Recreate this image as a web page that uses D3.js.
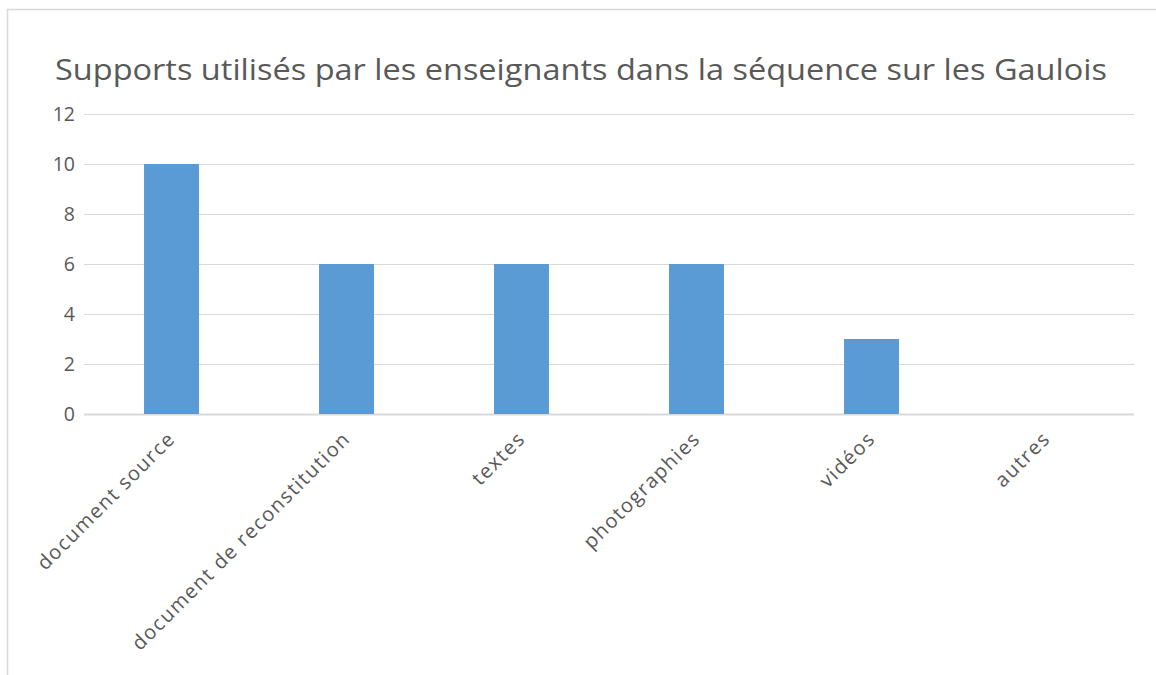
<!DOCTYPE html>
<html>
<head>
<meta charset="utf-8">
<script src="https://cdn.jsdelivr.net/npm/d3@7"></script>
<style>
  body { margin: 0; background: #fff; }
  text { font-family: "Open Sans", "Noto Sans", sans-serif; }
</style>
</head>
<body>
<div id="chart"></div>
<script>
const width = 1156;
const height = 675;

// data
const categories = ["document source", "document de reconstitution", "textes", "photographies", "vidéos", "autres"];
const values = [10, 6, 6, 6, 3, 0];
const yTicks = [0, 2, 4, 6, 8, 10, 12];
const title = "Supports utilisés par les enseignants dans la séquence sur les Gaulois";

const margin = { left: 84, right: 22, top: 114, bottom: 261 };

const svg = d3.select("#chart")
    .append("svg")
    .attr("width", width)
    .attr("height", height);

// chart frame (cut off on the right and bottom)
svg.append("rect")
    .attr("x", 7.5)
    .attr("y", 9.5)
    .attr("width", width + 10)
    .attr("height", height + 10)
    .attr("fill", "#fff")
    .attr("stroke", "#d9d9d9")
    .attr("stroke-width", 1.5);

const x = d3.scaleBand()
    .domain(categories)
    .range([margin.left, width - margin.right])
    .paddingInner(0.686)
    .paddingOuter(0.343);

const y = d3.scaleLinear()
    .domain([0, 12])
    .range([height - margin.bottom, margin.top]);

// title
svg.append("text")
    .attr("x", 581)
    .attr("y", 80)
    .attr("text-anchor", "middle")
    .attr("font-size", "30px")
    .attr("fill", "#595959")
    .attr("textLength", 1052)
    .attr("lengthAdjust", "spacingAndGlyphs")
    .text(title);

// gridlines
const yAxis = d3.axisLeft(y)
    .tickValues(yTicks)
    .tickSize(-(width - margin.right - margin.left))
    .tickPadding(9);

const gy = svg.append("g")
    .attr("transform", `translate(${margin.left},0)`)
    .call(yAxis);
gy.select(".domain").remove();
gy.selectAll(".tick line")
    .attr("stroke", "#d9d9d9")
    .attr("stroke-width", d => d === 0 ? 1.8 : 1.2);
gy.selectAll(".tick text")
    .attr("font-size", "19.5px")
    .attr("fill", "#595959")
    .attr("font-family", "Open Sans, sans-serif");

// bars
svg.selectAll("rect.bar")
    .data(values)
    .enter()
    .append("rect")
    .attr("class", "bar")
    .attr("x", (d, i) => x(categories[i]))
    .attr("width", x.bandwidth())
    .attr("y", d => y(d))
    .attr("height", d => y(0) - y(d))
    .attr("fill", "#5b9bd5");

// x labels, rotated
const xAxis = d3.axisBottom(x).tickSize(0).tickPadding(0);
const gx = svg.append("g")
    .attr("transform", `translate(0,${y(0)})`)
    .call(xAxis);
gx.select(".domain").remove();
gx.selectAll(".tick text")
    .attr("font-size", "20px")
    .attr("letter-spacing", "1.5px")
    .attr("fill", "#595959")
    .attr("font-family", "Open Sans, sans-serif")
    .attr("text-anchor", "end")
    .attr("y", 0)
    .attr("dy", 0)
    .attr("transform", "translate(5,26) rotate(-45)");
</script>
</body>
</html>
